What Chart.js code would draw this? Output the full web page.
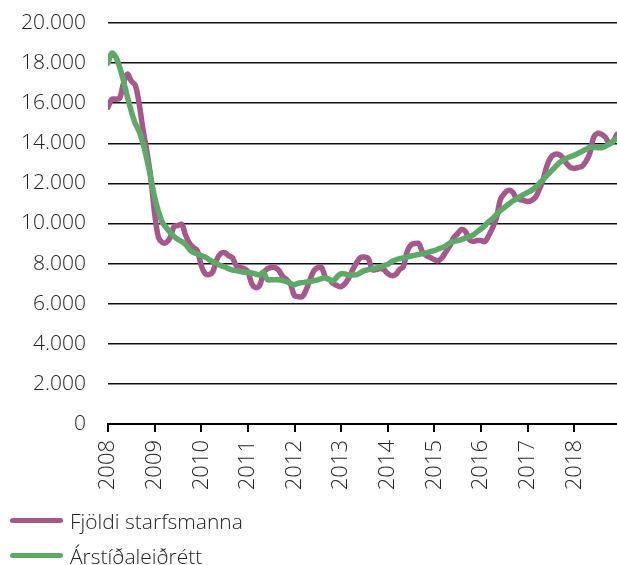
<!DOCTYPE html>
<html>
<head>
<meta charset="utf-8">
<script src="https://cdn.jsdelivr.net/npm/chart.js@4/dist/chart.umd.min.js"></script>
<style>
  html, body { margin: 0; padding: 0; background: #fff; }
  #wrap { position: relative; width: 617px; height: 565px; overflow: hidden; }
  #legend { position: absolute; left: 10px; top: 503px; font-family: "Open Sans", sans-serif; font-weight: 300; font-size: 21px; color: #222; }
  .item { display: flex; align-items: center; height: 35px; }
  .swatch { width: 53px; height: 5px; border-radius: 3px; margin-right: 7px; }
</style>
</head>
<body>
<div id="wrap">
  <canvas id="c" width="617" height="565"></canvas>
  <div id="legend"></div>
</div>
<script>
// Monthly values, Jan 2008 .. Dec 2018
const yearLabels = ["2008","2009","2010","2011","2012","2013","2014","2015","2016","2017","2018"];
const seriesNames = ["Fjöldi starfsmanna", "Árstíðaleiðrétt"];

const fjoldi = [
  15800,16200,16200,16250,17000,17450,17100,16900,16000,14700,13600,12300,
  10500,9300,9050,9050,9300,9850,9900,9950,9400,9000,8800,8650,
  7900,7500,7450,7600,8200,8500,8550,8400,8300,7900,7800,7750,
  7600,7000,6800,6900,7500,7750,7800,7800,7650,7350,7200,6950,
  6400,6350,6350,6700,7200,7650,7800,7800,7300,7200,7000,6900,
  6850,7000,7300,7700,8050,8300,8330,8250,7700,7700,7750,7700,
  7500,7400,7450,7700,7850,8600,8950,9000,9000,8550,8400,8300,
  8200,8150,8300,8600,8900,9300,9500,9700,9600,9200,9100,9150,
  9150,9100,9400,9800,10300,11200,11500,11650,11600,11300,11200,11150,
  11100,11150,11300,11700,12200,12900,13300,13450,13450,13300,13000,12800,
  12750,12800,12850,13100,13500,14300,14500,14450,14300,14000,14100,14450
];

const arstidaleidrett = [
  18000,18500,18300,17800,17100,16300,15600,15000,14600,14000,13200,12300,
  11300,10600,10050,9800,9550,9350,9200,9100,8950,8700,8550,8480,
  8400,8330,8200,8100,8000,7900,7830,7750,7680,7650,7600,7580,
  7560,7530,7480,7430,7580,7200,7190,7190,7190,7150,7100,7000,
  6950,7030,7050,7080,7100,7150,7190,7250,7300,7200,7150,7350,
  7500,7480,7430,7430,7450,7550,7650,7700,7730,7780,7830,7900,
  7960,8100,8180,8250,8280,8330,8380,8420,8460,8500,8550,8600,
  8650,8730,8800,8900,9030,9100,9150,9200,9280,9350,9430,9580,
  9730,9900,10100,10250,10450,10650,10800,10950,11100,11200,11330,11450,
  11550,11650,11800,12000,12200,12400,12600,12800,13000,13150,13250,13330,
  13400,13500,13600,13700,13800,13800,13780,13780,13850,13950,14100,14250
];

const colors = ["#a6588a", "#5daa68"];
const FONT = "'Open Sans', sans-serif";
const toPts = arr => arr.map((v, i) => ({ x: i, y: v }));

const chart = new Chart(document.getElementById('c'), {
  type: 'line',
  data: {
    datasets: [
      { label: seriesNames[0], data: toPts(fjoldi), borderColor: colors[0], backgroundColor: colors[0], order: 1 },
      { label: seriesNames[1], data: toPts(arstidaleidrett), borderColor: colors[1], backgroundColor: colors[1], order: 0 }
    ]
  },
  options: {
    responsive: false,
    animation: false,
    events: [],
    layout: { padding: { top: 23, right: 0, left: 0, bottom: 0 } },
    elements: {
      line: { borderWidth: 5.5, tension: 0.35, borderCapStyle: 'round', borderJoinStyle: 'round', fill: false },
      point: { radius: 0 }
    },
    plugins: { legend: { display: false }, tooltip: { enabled: false } },
    scales: {
      x: {
        type: 'linear', min: 0, max: fjoldi.length - 1,
        afterFit: s => { s.height = 141; },
        ticks: {
          stepSize: 12, includeBounds: false, autoSkip: false, minRotation: 90, maxRotation: 90, padding: 8,
          color: '#222', font: { family: FONT, size: 22, weight: 300 },
          callback: v => yearLabels[Math.round(v / 12)] ?? ''
        },
        grid: { display: true, drawOnChartArea: false, drawTicks: true, tickLength: 8, color: '#000', lineWidth: 2 },
        border: { display: true, color: '#000', width: 2 }
      },
      y: {
        min: 0, max: 20000,
        afterFit: s => { s.width = 108; },
        ticks: {
          stepSize: 2000, padding: 0, color: '#222', font: { family: FONT, size: 21, weight: 300 },
          callback: v => v === 0 ? '0' : v.toLocaleString('de-DE')
        },
        grid: { color: '#111', lineWidth: 1.5, drawTicks: true, tickLength: 22, tickColor: 'rgba(0,0,0,0)' },
        border: { display: false }
      }
    }
  }
});

// HTML legend built from the chart's datasets (in dataset order)
const leg = document.getElementById('legend');
chart.data.datasets.forEach(ds => {
  const row = document.createElement('div'); row.className = 'item';
  const sw = document.createElement('span'); sw.className = 'swatch'; sw.style.background = ds.borderColor;
  const tx = document.createElement('span'); tx.textContent = ds.label;
  row.appendChild(sw); row.appendChild(tx); leg.appendChild(row);
});
</script>
</body>
</html>
